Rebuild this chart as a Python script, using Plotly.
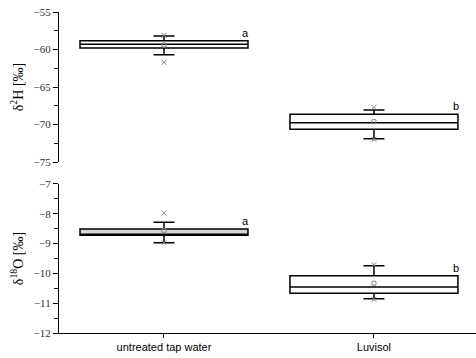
import plotly.graph_objects as go
from plotly.subplots import make_subplots

categories = ["untreated tap water", "Luvisol"]

# delta 2H panel (per mil)
h_q1 = [-59.8, -70.64]
h_median = [-59.3, -69.76]
h_q3 = [-58.83, -68.64]
h_low = [-60.7, -71.89]
h_high = [-58.2, -68.07]
h_mean = [-59.4, -69.63]
h_min = [-61.7, -71.97]
h_max = [-58.1, -67.71]
h_letters = ["a", "b"]

# delta 18O panel (per mil)
o_q1 = [-8.72, -10.67]
o_median = [-8.70, -10.46]
o_q3 = [-8.51, -10.08]
o_low = [-8.97, -10.85]
o_high = [-8.28, -9.74]
o_mean = [-8.57, -10.33]
o_min = [-8.97, -10.87]
o_max = [-7.98, -9.71]
o_letters = ["a", "b"]

fig = make_subplots(rows=2, cols=1, shared_xaxes=False, vertical_spacing=0.0)

box_fill_h = ["white", "white"]
box_fill_o = ["#d4d4d4", "white"]

def add_panel(row, q1, med, q3, lo, hi, mean, mn, mx, fills):
    for i, c in enumerate(categories):
        fig.add_trace(go.Box(
            x=[c], q1=[q1[i]], median=[med[i]], q3=[q3[i]],
            lowerfence=[lo[i]], upperfence=[hi[i]],
            width=0.8, whiskerwidth=0.125, boxpoints=False,
            fillcolor=fills[i], line=dict(color="black", width=1.5),
            showlegend=False, hoverinfo="skip"), row=row, col=1)
    fig.add_trace(go.Scatter(
        x=categories, y=mean, mode="markers",
        marker=dict(symbol="square-open", size=4, color="#888888", line=dict(width=1)),
        showlegend=False), row=row, col=1)
    fig.add_trace(go.Scatter(
        x=categories + categories, y=mn + mx, mode="markers",
        marker=dict(symbol="x-thin-open", size=5, color="#888888", line=dict(width=1, color="#888888")),
        showlegend=False), row=row, col=1)

add_panel(1, h_q1, h_median, h_q3, h_low, h_high, h_mean, h_min, h_max, box_fill_h)
add_panel(2, o_q1, o_median, o_q3, o_low, o_high, o_mean, o_min, o_max, box_fill_o)

# significance letters
letter_x = [0.39, 1.39]
h_letter_y = [-57.8, -67.5]
o_letter_y = [-8.25, -9.83]
for i in range(2):
    fig.add_annotation(x=letter_x[i], y=h_letter_y[i], text=h_letters[i], showarrow=False,
                       xref="x", yref="y", font=dict(family="Liberation Sans", size=11, color="#000000"))
    fig.add_annotation(x=letter_x[i], y=o_letter_y[i], text=o_letters[i], showarrow=False,
                       xref="x2", yref="y2", font=dict(family="Liberation Sans", size=11, color="#000000"))

serif = dict(family="Liberation Serif", size=11, color="#333333")
common_y = dict(showline=True, linecolor="black", linewidth=1.2, ticks="outside",
                ticklen=5, tickwidth=1, tickcolor="black", showgrid=False, zeroline=False,
                tickfont=serif)

fig.update_yaxes(range=[-75, -55], dtick=5, tick0=-75,
                 minor=dict(dtick=2.5, ticks="outside", ticklen=4, tickcolor="black", showgrid=False),
                 title=dict(text="δ<sup>2</sup>H [‰]", font=dict(family="Liberation Serif", size=14, color="black"), standoff=6),
                 row=1, col=1, **common_y)
fig.update_yaxes(range=[-12, -7], dtick=1, tick0=-12,
                 minor=dict(dtick=0.5, ticks="outside", ticklen=4, tickcolor="black", showgrid=False),
                 title=dict(text="δ<sup>18</sup>O [‰]", font=dict(family="Liberation Serif", size=14, color="black"), standoff=6),
                 row=2, col=1, **common_y)

fig.update_xaxes(type="category", range=[-0.5, 1.486], showgrid=False, zeroline=False)
fig.update_xaxes(showline=False, showticklabels=False, ticks="", row=1, col=1)
fig.update_xaxes(showline=True, linecolor="black", linewidth=1.2, ticks="outside", ticklen=4,
                 tickcolor="black", tickfont=dict(family="Liberation Sans", size=11, color="black"),
                 row=2, col=1)

fig.update_layout(
    width=476, height=358,
    margin=dict(l=59, r=0, t=12, b=25),
    paper_bgcolor="white", plot_bgcolor="white",
    yaxis=dict(domain=[0.5327, 1.0]),
    yaxis2=dict(domain=[0.0, 0.4642]),
)

fig.write_html("out.html")
